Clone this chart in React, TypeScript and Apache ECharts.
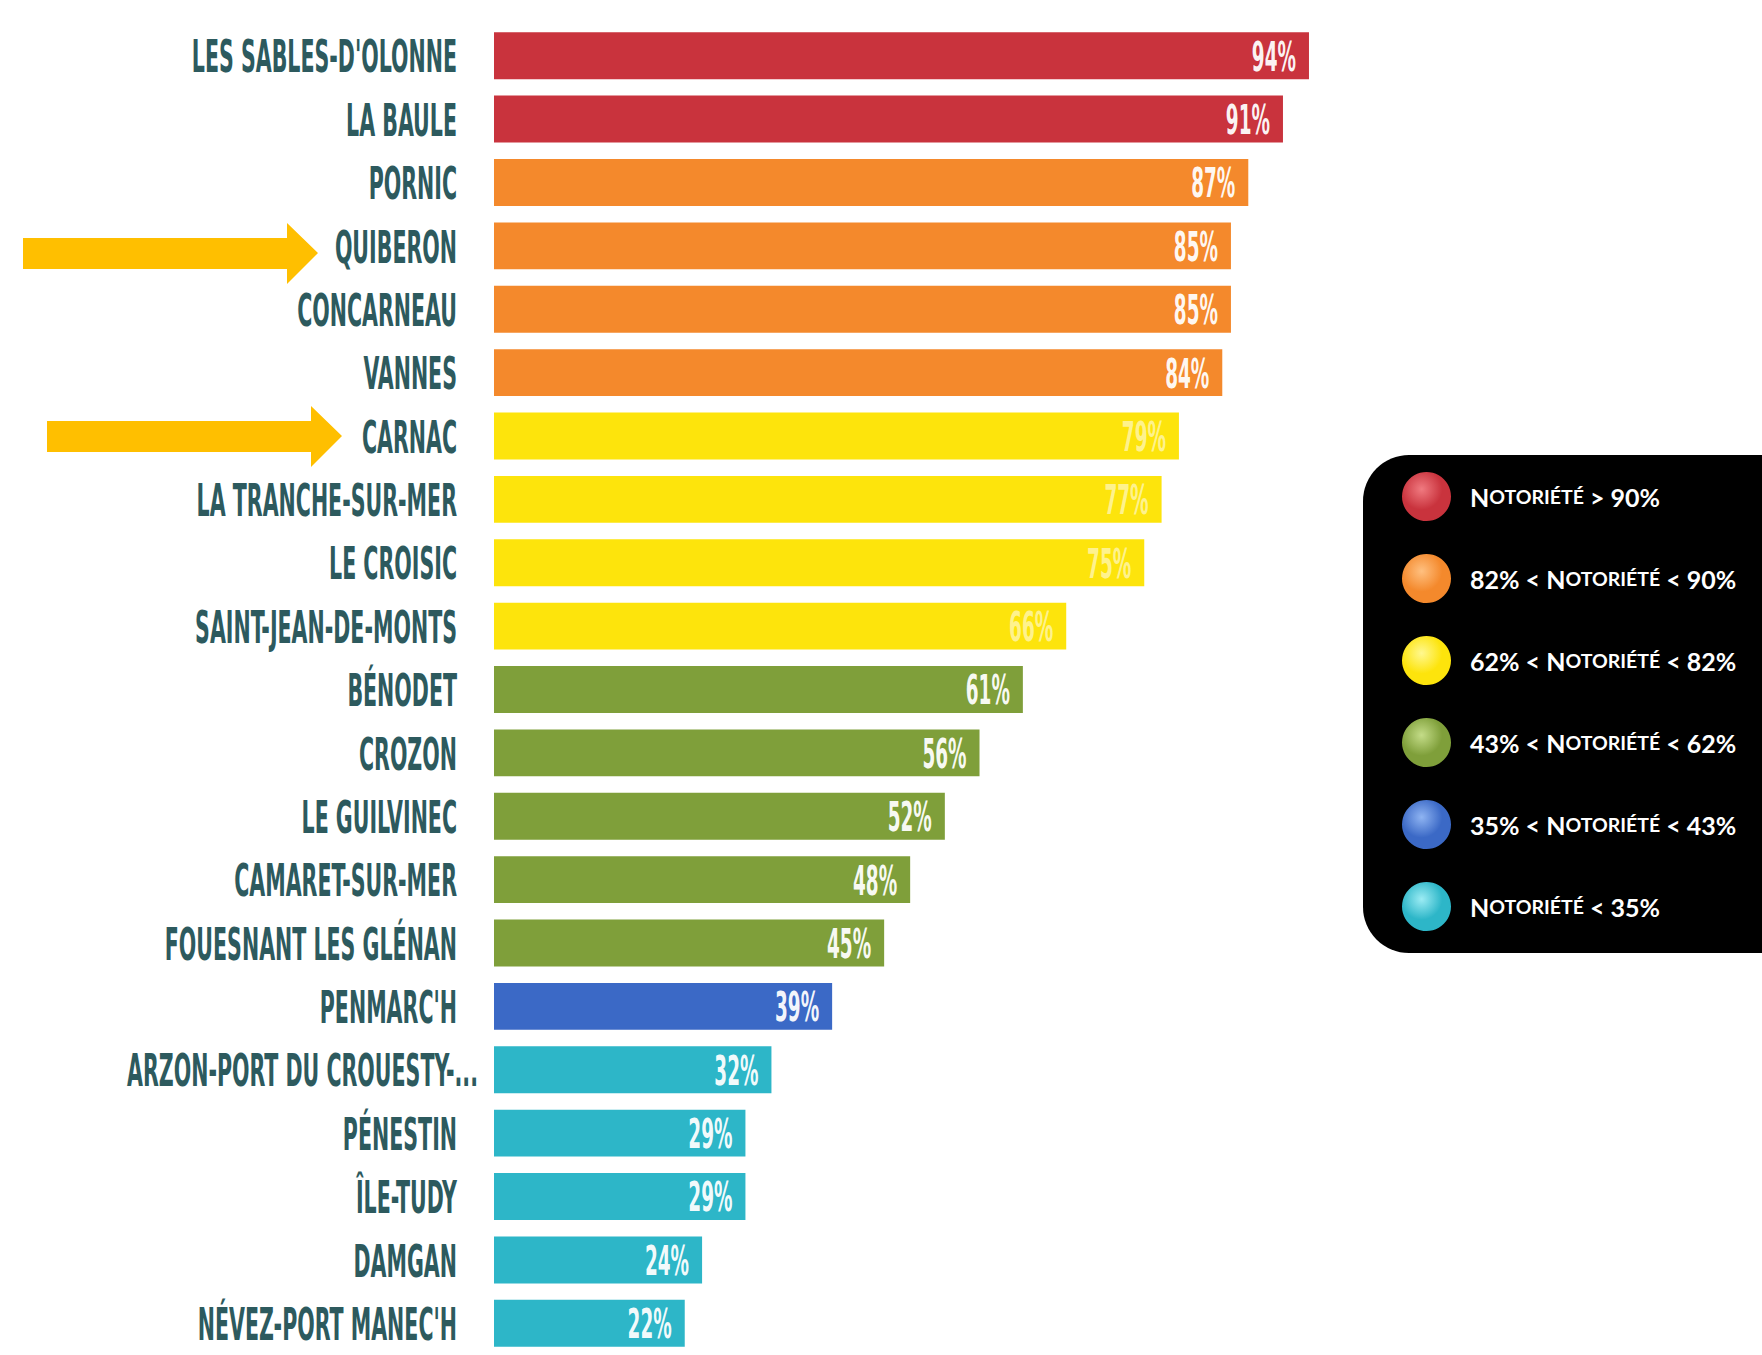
import React, { useEffect, useRef } from "react";
import * as echarts from "echarts";

const categories = [
  "LES SABLES-D'OLONNE",
  "LA BAULE",
  "PORNIC",
  "QUIBERON",
  "CONCARNEAU",
  "VANNES",
  "CARNAC",
  "LA TRANCHE-SUR-MER",
  "LE CROISIC",
  "SAINT-JEAN-DE-MONTS",
  "BÉNODET",
  "CROZON",
  "LE GUILVINEC",
  "CAMARET-SUR-MER",
  "FOUESNANT LES GLÉNAN",
  "PENMARC'H",
  "ARZON-PORT DU CROUESTY-...",
  "PÉNESTIN",
  "ÎLE-TUDY",
  "DAMGAN",
  "NÉVEZ-PORT MANEC'H",
];
const values = [94, 91, 87, 85, 85, 84, 79, 77, 75, 66, 61, 56, 52, 48, 45, 39, 32, 29, 29, 24, 22];

const tierNames = [
  "Notoriété > 90%",
  "82% < Notoriété < 90%",
  "62% < Notoriété < 82%",
  "43% < Notoriété < 62%",
  "35% < Notoriété < 43%",
  "Notoriété < 35%",
];
const tierLower = [90, 82, 62, 43, 35, 0];
const tierColors = ["#c9333d", "#f4892c", "#fde40c", "#7f9f3a", "#3b69c6", "#2db6c8"];
const tierLight = ["#f07a80", "#ffc080", "#fff890", "#c4dc88", "#8fb4f2", "#9cecf4"];

const COND = "'DejaVu Sans Condensed', 'DejaVu Sans', sans-serif";

function tierOf(v: number): number {
  for (let i = 0; i < tierLower.length; i++) if (v > tierLower[i]) return i;
  return tierLower.length - 1;
}

function smallCaps(name: string): string {
  const idx = name.indexOf("Notoriété");
  const pre = name.slice(0, idx);
  const post = name.slice(idx + "Notoriété".length);
  let s = "";
  if (pre) s += `{b|${pre}}`;
  s += `{b|N}{s|OTORIÉTÉ}`;
  if (post) s += `{b|${post}}`;
  return s;
}

export default function App() {
  const ref = useRef<HTMLDivElement>(null);
  useEffect(() => {
    if (!ref.current) return;
    const chart = echarts.init(ref.current, undefined, { renderer: "svg" });
    const barSeries = tierNames.map((name, t) => ({
      name,
      type: "bar",
      stack: "all",
      barCategoryGap: "26%",
      itemStyle: { color: tierColors[t] },
      data: values.map((v) => (tierOf(v) === t ? v : "-")),
    }));

    const categoryLabels = {
      type: "custom",
      name: "labels",
      z: 5,
      clip: false,
      silent: true,
      encode: { x: 0, y: 1 },
      data: categories.map((c, i) => [0, i]),
      renderItem: (params: any, api: any) => {
        const p = api.coord([0, api.value(1)]);
        const label = categories[params.dataIndex];
        const hang = label.endsWith("...") ? 21 : 0;
        return {
          type: "text",
          x: p[0] - 37 + hang,
          y: p[1] + 1,
          scaleX: 0.52,
          style: {
            text: label,
            align: "right",
            verticalAlign: "middle",
            fill: "#2d5a5e",
            font: `bold 44px ${COND}`,
          },
        };
      },
    };

    const valueLabels = {
      type: "custom",
      name: "values",
      z: 5,
      clip: false,
      silent: true,
      encode: { x: 0, y: 1 },
      data: values.map((v, i) => [v, i]),
      renderItem: (params: any, api: any) => {
        const v = api.value(0);
        const p = api.coord([v, api.value(1)]);
        const t = tierOf(v);
        return {
          type: "text",
          x: p[0] - 13,
          y: p[1] + 1,
          scaleX: 0.5,
          style: {
            text: `${v}%`,
            align: "right",
            verticalAlign: "middle",
            fill: t === 2 ? "rgba(255,255,255,0.55)" : "rgba(255,255,255,0.95)",
            font: `bold 41px ${COND}`,
          },
        };
      },
    };

    chart.setOption({
      animation: false,
      backgroundColor: "#ffffff",
      grid: { left: 494, right: 401, top: 24, bottom: 0, containLabel: false },
      xAxis: {
        type: "value",
        min: 0,
        max: 100,
        show: false,
      },
      yAxis: {
        type: "category",
        inverse: true,
        data: categories,
        axisLine: { show: false },
        axisTick: { show: false },
        axisLabel: { show: false },
      },
      legend: {
        orient: "vertical",
        left: 1363,
        top: 455,
        selectedMode: false,
        backgroundColor: "#000000",
        borderRadius: 46,
        padding: [17, 80, 22, 39],
        itemWidth: 49,
        itemHeight: 49,
        itemGap: 33,
        icon: "circle",
        data: tierNames.map((name, t) => ({
          name,
          itemStyle: {
            color: {
              type: "radial",
              x: 0.4,
              y: 0.35,
              r: 0.7,
              colorStops: [
                { offset: 0, color: tierLight[t] },
                { offset: 0.6, color: tierColors[t] },
                { offset: 1, color: tierColors[t] },
              ],
            },
          },
        })),
        formatter: (name: string) => smallCaps(name),
        textStyle: {
          padding: [0, 0, 0, 14],
          rich: {
            b: { color: "#ffffff", fontFamily: "Lato, 'Open Sans', sans-serif", fontWeight: "bold", fontSize: 25 },
            s: { color: "#ffffff", fontFamily: "Lato, 'Open Sans', sans-serif", fontWeight: "bold", fontSize: 19.5 },
          },
        },
      },
      graphic: [
        {
          type: "polygon",
          shape: {
            points: [
              [23, 238],
              [287, 238],
              [287, 223],
              [318, 253],
              [287, 284],
              [287, 269],
              [23, 269],
            ],
          },
          style: { fill: "#ffbf00" },
        },
        {
          type: "polygon",
          shape: {
            points: [
              [47, 421],
              [311, 421],
              [311, 406],
              [342, 436],
              [311, 467],
              [311, 452],
              [47, 452],
            ],
          },
          style: { fill: "#ffbf00" },
        },
      ],
      series: [...barSeries, categoryLabels, valueLabels],
    });
    return () => chart.dispose();
  }, []);

  return (
    <div style={{ position: "fixed", left: 0, top: 0, width: 1762, height: 1355, overflow: "hidden", background: "#fff" }}>
      <div ref={ref} style={{ width: 1762, height: 1355 }} />
    </div>
  );
}
